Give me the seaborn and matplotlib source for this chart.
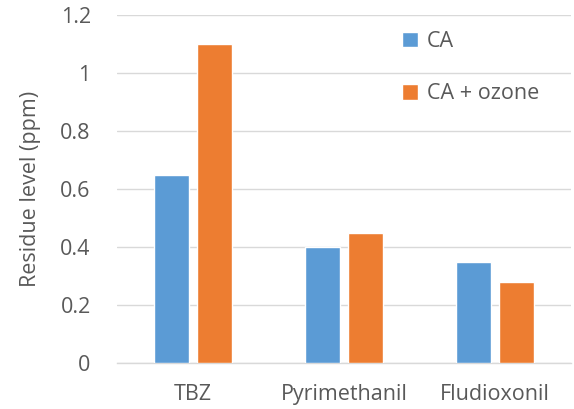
import pandas as pd
import matplotlib.pyplot as plt
import seaborn as sns

# Data
pesticides = ['TBZ', 'Pyrimethanil', 'Fludioxonil']
ca = [0.65, 0.40, 0.35]
ca_ozone = [1.10, 0.45, 0.28]
series_names = ['CA', 'CA + ozone']

df = pd.DataFrame({
    'Pesticide': pesticides * 2,
    'Residue': ca + ca_ozone,
    'Treatment': [series_names[0]] * 3 + [series_names[1]] * 3,
})

sns.set_style('white')
plt.rcParams['font.family'] = ['Open Sans', 'DejaVu Sans']
text_color = '#595959'

fig = plt.figure(figsize=(5.74, 4.09), dpi=100)
ax = fig.add_axes([0.204, 0.112, 0.79, 0.851])

sns.barplot(data=df, x='Pesticide', y='Residue', hue='Treatment',
            palette=['#5B9BD5', '#ED7D31'], saturation=1, width=0.57, gap=0.19,
            errorbar=None, ax=ax, zorder=3)

ax.set_ylim(0, 1.2)
ax.set_yticks([0, 0.2, 0.4, 0.6, 0.8, 1.0, 1.2])
ax.set_yticklabels(['0', '0.2', '0.4', '0.6', '0.8', '1', '1.2'])
ax.set_xlim(-0.5, 2.5)
ax.grid(axis='y', color='#D9D9D9', linewidth=1, zorder=0)
for side in ['top', 'right', 'left']:
    ax.spines[side].set_visible(False)
ax.spines['bottom'].set_color('#D9D9D9')
ax.spines['bottom'].set_linewidth(1)
ax.tick_params(axis='both', length=0, labelsize=15.5, colors=text_color)
ax.tick_params(axis='y', pad=19)
ax.tick_params(axis='x', pad=15)
ax.set_xlabel('')
ax.set_ylabel('Residue level (ppm)', fontsize=15.5, color=text_color, labelpad=14)

leg = ax.legend(loc='upper left', bbox_to_anchor=(0.585, 1.01), frameon=False,
                fontsize=15.5, handlelength=0.75, handleheight=0.75,
                labelspacing=1.45, handletextpad=0.4)
for t in leg.get_texts():
    t.set_color(text_color)

fig.savefig('out.png', dpi=100)
